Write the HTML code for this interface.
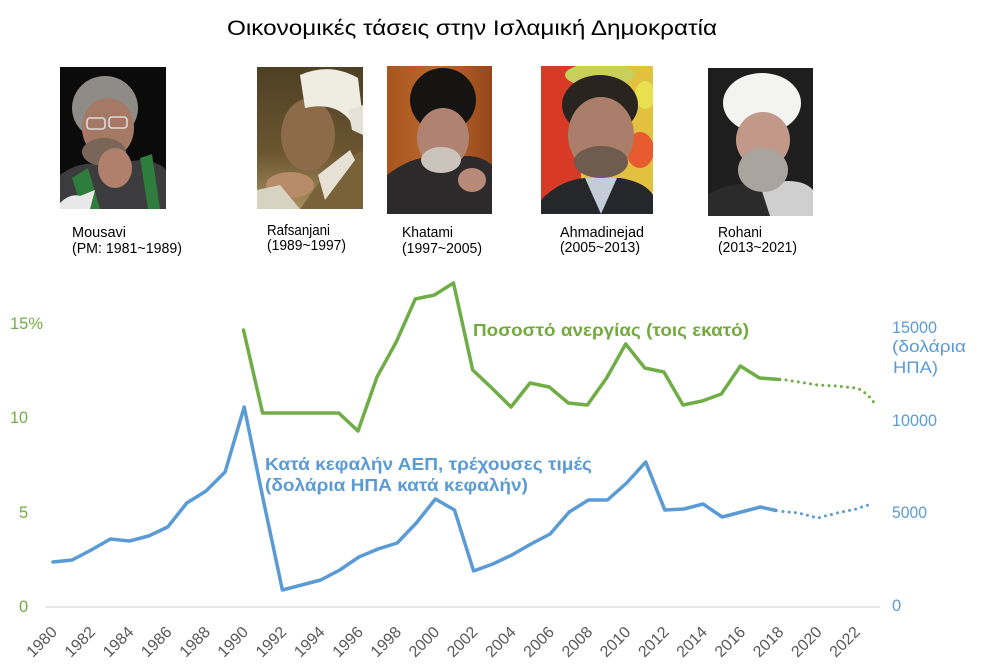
<!DOCTYPE html>
<html><head><meta charset="utf-8"><style>
html,body{margin:0;padding:0;background:#fff;}
svg{display:block;}
text{font-family:"Liberation Sans",sans-serif;}
</style></head><body>
<svg width="999" height="671" viewBox="0 0 999 671" xmlns="http://www.w3.org/2000/svg">
<rect width="999" height="671" fill="#fff"/>
<defs>
<clipPath id="c1"><rect x="60" y="67" width="106" height="142"/></clipPath>
<clipPath id="c2"><rect x="257" y="67" width="106" height="142"/></clipPath>
<clipPath id="c3"><rect x="387" y="66" width="105" height="148"/></clipPath>
<clipPath id="c4"><rect x="541" y="66" width="112" height="148"/></clipPath>
<clipPath id="c5"><rect x="708" y="68" width="105" height="148"/></clipPath>
<linearGradient id="gk" x1="0" y1="0" x2="1" y2="0"><stop offset="0" stop-color="#a8551f"/><stop offset="0.5" stop-color="#bd6a2e"/><stop offset="1" stop-color="#94461a"/></linearGradient>
<linearGradient id="gr" x1="0" y1="0" x2="0" y2="1"><stop offset="0" stop-color="#4e4024"/><stop offset="0.6" stop-color="#6a5530"/><stop offset="1" stop-color="#a89060"/></linearGradient>
</defs>

<!-- Title -->
<text x="227" y="35" font-size="21" fill="#000" textLength="490" lengthAdjust="spacingAndGlyphs">Οικονομικές τάσεις στην Ισλαμική Δημοκρατία</text>

<!-- Mousavi -->
<g clip-path="url(#c1)">
<rect x="60" y="67" width="106" height="142" fill="#0b0b0b"/>
<path d="M60,175 Q80,160 100,165 L140,160 Q160,162 166,170 L166,209 L60,209 Z" fill="#3c3b3d"/>
<path d="M72,178 L88,168 L100,209 L82,209 Z" fill="#2f7d3c"/>
<path d="M140,158 L152,154 L160,209 L148,209 Z" fill="#2f7d3c"/>
<ellipse cx="105" cy="108" rx="33" ry="32" fill="#8f8b86"/>
<ellipse cx="108" cy="128" rx="26" ry="30" fill="#a67866"/>
<ellipse cx="104" cy="152" rx="22" ry="14" fill="#7a6658"/>
<rect x="87" y="118" width="18" height="11" rx="3" fill="none" stroke="#dcdcdc" stroke-width="1.6"/>
<rect x="109" y="117" width="18" height="11" rx="3" fill="none" stroke="#dcdcdc" stroke-width="1.6"/>
<ellipse cx="115" cy="168" rx="17" ry="20" fill="#b0806c"/>
<path d="M60,203 Q70,193 80,196 L95,190 L90,209 L60,209 Z" fill="#e8e8e8"/>
</g>

<!-- Rafsanjani -->
<g clip-path="url(#c2)">
<rect x="257" y="67" width="106" height="142" fill="url(#gr)"/>
<path d="M328,170 L363,150 L363,209 L300,209 Z" fill="#7a6238"/>
<ellipse cx="308" cy="135" rx="27" ry="36" fill="#8c6a4a"/>
<path d="M300,75 Q330,62 358,78 L363,120 L355,128 Q340,100 305,108 Z" fill="#efede2"/>
<path d="M348,110 L363,105 L363,135 L352,130 Z" fill="#e4e2d6"/>
<path d="M318,175 L350,150 L355,160 L325,200 Z" fill="#e6e1d4"/>
<ellipse cx="290" cy="185" rx="24" ry="13" fill="#b88c68"/>
<path d="M257,190 L280,185 L300,209 L257,209 Z" fill="#d8d2c2"/>
</g>

<!-- Khatami -->
<g clip-path="url(#c3)">
<rect x="387" y="66" width="105" height="148" fill="url(#gk)"/>
<path d="M387,175 Q420,150 445,160 Q475,150 492,165 L492,214 L387,214 Z" fill="#2c2a2a"/>
<ellipse cx="443" cy="100" rx="33" ry="32" fill="#161412"/>
<ellipse cx="443" cy="138" rx="26" ry="30" fill="#b08272"/>
<ellipse cx="441" cy="160" rx="20" ry="13" fill="#cbc4bc"/>
<ellipse cx="472" cy="180" rx="14" ry="12" fill="#b88878"/>
</g>

<!-- Ahmadinejad -->
<g clip-path="url(#c4)">
<rect x="541" y="66" width="112" height="148" fill="#e2c040"/>
<rect x="541" y="66" width="40" height="148" fill="#d83a26"/>
<ellipse cx="600" cy="75" rx="35" ry="12" fill="#c8cf5a"/>
<ellipse cx="640" cy="150" rx="14" ry="18" fill="#e85a30"/>
<ellipse cx="645" cy="95" rx="10" ry="14" fill="#e8e050"/>
<ellipse cx="600" cy="105" rx="38" ry="30" fill="#2a2420"/>
<ellipse cx="601" cy="135" rx="33" ry="38" fill="#aa7e6a"/>
<ellipse cx="601" cy="162" rx="27" ry="16" fill="#6e5c50"/>
<path d="M541,200 Q560,180 585,178 L620,178 Q645,182 653,195 L653,214 L541,214 Z" fill="#26272b"/>
<path d="M585,178 L601,214 L617,178 Z" fill="#c4ccd8"/>
</g>

<!-- Rohani -->
<g clip-path="url(#c5)">
<rect x="708" y="68" width="105" height="148" fill="#1e1e1f"/>
<path d="M708,195 Q730,180 760,185 L780,216 L708,216 Z" fill="#2b2b2c"/>
<path d="M760,185 Q800,175 813,190 L813,216 L770,216 Z" fill="#cfcfcf"/>
<ellipse cx="762" cy="103" rx="39" ry="30" fill="#f3f3f1"/>
<ellipse cx="763" cy="140" rx="27" ry="28" fill="#c29888"/>
<ellipse cx="763" cy="170" rx="25" ry="22" fill="#aaa49e"/>
</g>

<!-- Photo captions -->
<g font-size="14.5" fill="#000">
<text x="72" y="237" textLength="54" lengthAdjust="spacingAndGlyphs">Mousavi</text>
<text x="72" y="253" textLength="110" lengthAdjust="spacingAndGlyphs">(PM: 1981~1989)</text>
<text x="267" y="235" textLength="63" lengthAdjust="spacingAndGlyphs">Rafsanjani</text>
<text x="267" y="250" textLength="79" lengthAdjust="spacingAndGlyphs">(1989~1997)</text>
<text x="402" y="237" textLength="51" lengthAdjust="spacingAndGlyphs">Khatami</text>
<text x="402" y="253" textLength="80" lengthAdjust="spacingAndGlyphs">(1997~2005)</text>
<text x="560" y="237" textLength="84" lengthAdjust="spacingAndGlyphs">Ahmadinejad</text>
<text x="560" y="252" textLength="80" lengthAdjust="spacingAndGlyphs">(2005~2013)</text>
<text x="718" y="237" textLength="44" lengthAdjust="spacingAndGlyphs">Rohani</text>
<text x="718" y="252" textLength="79" lengthAdjust="spacingAndGlyphs">(2013~2021)</text>
</g>

<!-- Axis baseline -->
<line x1="45" y1="607" x2="880" y2="607" stroke="#d9d9d9" stroke-width="1.2"/>

<!-- Left axis labels -->
<g font-size="16.5" fill="#70ad47">
<text x="10" y="329" textLength="33" lengthAdjust="spacingAndGlyphs">15%</text>
<text x="10" y="423" textLength="18" lengthAdjust="spacingAndGlyphs">10</text>
<text x="19" y="518">5</text>
<text x="19" y="612">0</text>
</g>

<!-- Right axis labels -->
<g font-size="16.5" fill="#5b9bd5">
<text x="892" y="333" textLength="45" lengthAdjust="spacingAndGlyphs">15000</text>
<text x="892" y="352" textLength="74" lengthAdjust="spacingAndGlyphs">(δολάρια</text>
<text x="893" y="373" textLength="45" lengthAdjust="spacingAndGlyphs">ΗΠΑ)</text>
<text x="892" y="426" textLength="45" lengthAdjust="spacingAndGlyphs">10000</text>
<text x="892" y="518" textLength="35" lengthAdjust="spacingAndGlyphs">5000</text>
<text x="892" y="611">0</text>
</g>

<!-- Green series -->
<polyline fill="none" stroke="#70ad47" stroke-width="3.5" stroke-linejoin="round" stroke-linecap="round"
points="243.5,330 262.6,413 281.6,413 300.7,413 319.7,413 338.8,413 358,431 377,377 396.2,342 415.3,299 434.4,295 453.5,283 472.7,370 491.8,388 511,407 530,383 549.2,387 568.3,403 587.4,405 606.6,378 625.7,344 644.8,368 663.9,372 683,405 702.2,401 721.3,394 740.4,366 759.5,378 779.6,379.5"/>
<path d="M786,380 L798.7,382 L817.8,385 L837,386 L856,388 Q866,391 875,404" fill="none" stroke="#70ad47" stroke-width="3" stroke-linecap="round" stroke-dasharray="0 6.2"/>

<!-- Blue series -->
<polyline fill="none" stroke="#5b9bd5" stroke-width="3.5" stroke-linejoin="round" stroke-linecap="round"
points="53,562 72.1,560 91.2,550 110.4,539 129.5,541 148.6,536 167.7,527 186.8,503 206,491 225.1,472 244.2,407 263.3,500 282.4,590 301.6,585 320.7,580 339.8,570 358.9,557 378,549 397.2,543 416.3,523 435.4,499 454.5,510 473.6,571 492.8,564 511.9,555 531,544 550.1,534 569.2,512 588.4,500 607.5,500 626.6,483 645.7,462 664.8,510 684,509 703.1,504 722.2,517 741.3,512 760.4,507 776,510.5"/>
<path d="M783,511.5 L798.7,513 L817.8,518 L837,513 L856,509 L868,505" fill="none" stroke="#5b9bd5" stroke-width="3" stroke-linecap="round" stroke-dasharray="0 6.2"/>

<!-- Series labels -->
<text x="473" y="336" font-size="17.5" font-weight="bold" fill="#73aa3e" textLength="276" lengthAdjust="spacingAndGlyphs">Ποσοστό ανεργίας (τοις εκατό)</text>
<text x="265" y="470" font-size="17.5" font-weight="bold" fill="#5b9bd5" textLength="327" lengthAdjust="spacingAndGlyphs">Κατά κεφαλήν ΑΕΠ, τρέχουσες τιμές</text>
<text x="265" y="491" font-size="17.5" font-weight="bold" fill="#5b9bd5" textLength="263" lengthAdjust="spacingAndGlyphs">(δολάρια ΗΠΑ κατά κεφαλήν)</text>

<!-- X axis labels -->
<g font-size="16" fill="#595959" text-anchor="end">
<text transform="translate(58,633) rotate(-45)">1980</text>
<text transform="translate(96.2,633) rotate(-45)">1982</text>
<text transform="translate(134.5,633) rotate(-45)">1984</text>
<text transform="translate(172.7,633) rotate(-45)">1986</text>
<text transform="translate(211,633) rotate(-45)">1988</text>
<text transform="translate(249.2,633) rotate(-45)">1990</text>
<text transform="translate(287.4,633) rotate(-45)">1992</text>
<text transform="translate(325.7,633) rotate(-45)">1994</text>
<text transform="translate(364,633) rotate(-45)">1996</text>
<text transform="translate(402.2,633) rotate(-45)">1998</text>
<text transform="translate(440.4,633) rotate(-45)">2000</text>
<text transform="translate(478.6,633) rotate(-45)">2002</text>
<text transform="translate(516.9,633) rotate(-45)">2004</text>
<text transform="translate(555.1,633) rotate(-45)">2006</text>
<text transform="translate(593.4,633) rotate(-45)">2008</text>
<text transform="translate(631.6,633) rotate(-45)">2010</text>
<text transform="translate(669.8,633) rotate(-45)">2012</text>
<text transform="translate(708.1,633) rotate(-45)">2014</text>
<text transform="translate(746.3,633) rotate(-45)">2016</text>
<text transform="translate(784.6,633) rotate(-45)">2018</text>
<text transform="translate(822.8,633) rotate(-45)">2020</text>
<text transform="translate(861,633) rotate(-45)">2022</text>
</g>
</svg>
</body></html>
